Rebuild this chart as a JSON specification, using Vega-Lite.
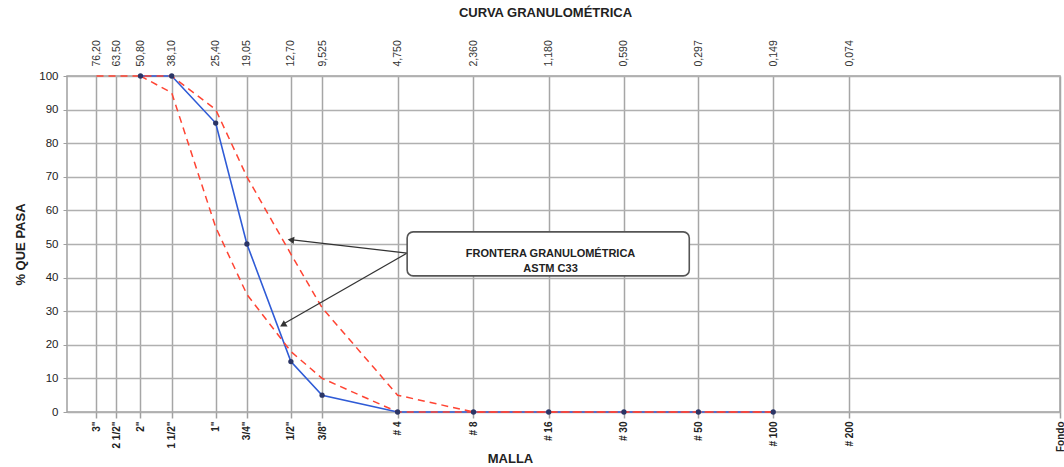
{
  "$schema": "https://vega.github.io/schema/vega-lite/v6.json",
  "autosize": {"type": "none"},
  "padding": {"left": 67, "top": 76, "right": 4, "bottom": 55},
  "width": 993,
  "height": 336,
  "config": {
    "font": "Liberation Sans",
    "view": {"stroke": "#a0a0a0", "strokeWidth": 1.5}
  },
  "title": {
    "text": "CURVA GRANULOMÉTRICA",
    "fontSize": 13,
    "fontWeight": "bold",
    "color": "#222222",
    "anchor": "middle",
    "dx": -18,
    "offset": 20
  },
  "datasets": {
    "muestra": [
      {"serie": "Muestra", "mm": 50.8, "pasa": 100},
      {"serie": "Muestra", "mm": 38.1, "pasa": 100},
      {"serie": "Muestra", "mm": 25.4, "pasa": 86},
      {"serie": "Muestra", "mm": 19.05, "pasa": 50},
      {"serie": "Muestra", "mm": 12.7, "pasa": 15},
      {"serie": "Muestra", "mm": 9.525, "pasa": 5},
      {"serie": "Muestra", "mm": 4.75, "pasa": 0},
      {"serie": "Muestra", "mm": 2.36, "pasa": 0},
      {"serie": "Muestra", "mm": 1.18, "pasa": 0},
      {"serie": "Muestra", "mm": 0.59, "pasa": 0},
      {"serie": "Muestra", "mm": 0.297, "pasa": 0},
      {"serie": "Muestra", "mm": 0.149, "pasa": 0}
    ],
    "limites": [
      {"serie": "Límite superior", "mm": 76.2, "pasa": 100},
      {"serie": "Límite superior", "mm": 63.5, "pasa": 100},
      {"serie": "Límite superior", "mm": 50.8, "pasa": 100},
      {"serie": "Límite superior", "mm": 38.1, "pasa": 100},
      {"serie": "Límite superior", "mm": 25.4, "pasa": 90},
      {"serie": "Límite superior", "mm": 19.05, "pasa": 70},
      {"serie": "Límite superior", "mm": 12.7, "pasa": 47},
      {"serie": "Límite superior", "mm": 9.525, "pasa": 31},
      {"serie": "Límite superior", "mm": 4.75, "pasa": 5},
      {"serie": "Límite superior", "mm": 2.36, "pasa": 0},
      {"serie": "Límite superior", "mm": 1.18, "pasa": 0},
      {"serie": "Límite superior", "mm": 0.59, "pasa": 0},
      {"serie": "Límite superior", "mm": 0.297, "pasa": 0},
      {"serie": "Límite superior", "mm": 0.149, "pasa": 0},
      {"serie": "Límite inferior", "mm": 50.8, "pasa": 100},
      {"serie": "Límite inferior", "mm": 38.1, "pasa": 95},
      {"serie": "Límite inferior", "mm": 25.4, "pasa": 55},
      {"serie": "Límite inferior", "mm": 19.05, "pasa": 35},
      {"serie": "Límite inferior", "mm": 12.7, "pasa": 18},
      {"serie": "Límite inferior", "mm": 9.525, "pasa": 10},
      {"serie": "Límite inferior", "mm": 4.75, "pasa": 0},
      {"serie": "Límite inferior", "mm": 2.36, "pasa": 0},
      {"serie": "Límite inferior", "mm": 1.18, "pasa": 0},
      {"serie": "Límite inferior", "mm": 0.59, "pasa": 0},
      {"serie": "Límite inferior", "mm": 0.297, "pasa": 0},
      {"serie": "Límite inferior", "mm": 0.149, "pasa": 0}
    ]
  },
  "layer": [
    {
      "data": {"name": "muestra"},
      "mark": {"type": "line", "color": "#2f5bd6", "strokeWidth": 1.6},
      "encoding": {
        "x": {
          "field": "mm",
          "type": "quantitative",
          "scale": {"type": "log", "domain": [0.0106, 100], "reverse": true, "nice": false, "zero": false},
          "axis": {
            "orient": "bottom",
            "values": [76.2, 63.5, 50.8, 38.1, 25.4, 19.05, 12.7, 9.525, 4.75, 2.36, 1.18, 0.59, 0.297, 0.149, 0.074, 0.0106],
            "labelExpr": "['3\"','2 1/2\"','2\"','1 1/2\"','1\"','3/4\"','1/2\"','3/8\"','# 4','# 8','# 16','# 30','# 50','# 100','# 200','Fondo'][indexof([76.2,63.5,50.8,38.1,25.4,19.05,12.7,9.525,4.75,2.36,1.18,0.59,0.297,0.149,0.074,0.0106], datum.value)]",
            "labelAngle": -90,
            "labelAlign": "right",
            "labelBaseline": "middle",
            "labelFontSize": 10,
            "labelFontWeight": "bold",
            "labelColor": "#222222",
            "labelPadding": 3,
            "labelOverlap": false,
            "labelBound": false,
            "labelFlush": false,
            "tickSize": 6,
            "tickColor": "#a0a0a0",
            "tickWidth": 1.5,
            "domain": false,
            "grid": true,
            "gridColor": "#a6a6a6",
            "gridWidth": 1.5,
            "title": "MALLA",
            "titleFontSize": 13,
            "titleFontWeight": "bold",
            "titleColor": "#222222",
            "titleX": 443,
            "titleY": 50,
            "titleBaseline": "alphabetic"
          }
        },
        "y": {
          "field": "pasa",
          "type": "quantitative",
          "scale": {"domain": [0, 100], "nice": false},
          "axis": {
            "values": [0, 10, 20, 30, 40, 50, 60, 70, 80, 90, 100],
            "labelFontSize": 11.5,
            "labelColor": "#222222",
            "labelPadding": 5,
            "tickSize": 4,
            "tickColor": "#a0a0a0",
            "domain": false,
            "grid": true,
            "gridColor": "#b0b0b0",
            "gridWidth": 1.5,
            "title": "% QUE PASA",
            "titleFontSize": 13,
            "titleFontWeight": "bold",
            "titleColor": "#222222",
            "titlePadding": 11
          }
        }
      }
    },
    {
      "data": {"name": "limites"},
      "mark": {"type": "line", "color": "#ff4433", "strokeWidth": 1.5, "strokeDash": [7, 5]},
      "encoding": {
        "x": {
          "field": "mm",
          "type": "quantitative",
          "scale": {"type": "log", "domain": [0.0106, 100], "reverse": true, "nice": false, "zero": false},
          "axis": null
        },
        "y": {"field": "pasa", "type": "quantitative", "scale": {"domain": [0, 100], "nice": false}, "axis": null},
        "detail": {"field": "serie"}
      }
    },
    {
      "data": {"name": "muestra"},
      "mark": {"type": "point", "filled": true, "color": "#2b3566", "size": 28, "opacity": 1},
      "encoding": {
        "x": {
          "field": "mm",
          "type": "quantitative",
          "scale": {"type": "log", "domain": [0.0106, 100], "reverse": true, "nice": false, "zero": false},
          "axis": {
            "orient": "top",
            "values": [76.2, 63.5, 50.8, 38.1, 25.4, 19.05, 12.7, 9.525, 4.75, 2.36, 1.18, 0.59, 0.297, 0.149, 0.074],
            "labelExpr": "['76,20','63,50','50,80','38,10','25,40','19,05','12,70','9,525','4,750','2,360','1,180','0,590','0,297','0,149','0,074'][indexof([76.2,63.5,50.8,38.1,25.4,19.05,12.7,9.525,4.75,2.36,1.18,0.59,0.297,0.149,0.074], datum.value)]",
            "labelAngle": -90,
            "labelAlign": "left",
            "labelBaseline": "middle",
            "labelFontSize": 10.5,
            "labelColor": "#333333",
            "labelPadding": 10,
            "labelOverlap": false,
            "labelBound": false,
            "labelFlush": false,
            "ticks": false,
            "domain": false,
            "grid": false,
            "title": null
          }
        },
        "y": {"field": "pasa", "type": "quantitative", "scale": {"domain": [0, 100], "nice": false}, "axis": null}
      }
    },
    {
      "data": {"values": [{}]},
      "mark": {"type": "rule", "color": "#333333", "strokeWidth": 1.2},
      "encoding": {
        "x": {"datum": 4.35, "type": "quantitative", "scale": {"type": "log", "domain": [0.0106, 100], "reverse": true, "nice": false, "zero": false}, "axis": null},
        "y": {"datum": 47.3, "type": "quantitative", "scale": {"domain": [0, 100], "nice": false}, "axis": null},
        "x2": {"datum": 12.5},
        "y2": {"datum": 51.2}
      }
    },
    {
      "data": {"values": [{}]},
      "mark": {"type": "rule", "color": "#333333", "strokeWidth": 1.2},
      "encoding": {
        "x": {"datum": 4.35, "type": "quantitative", "scale": {"type": "log", "domain": [0.0106, 100], "reverse": true, "nice": false, "zero": false}, "axis": null},
        "y": {"datum": 47.3, "type": "quantitative", "scale": {"domain": [0, 100], "nice": false}, "axis": null},
        "x2": {"datum": 13.4},
        "y2": {"datum": 26.5}
      }
    },
    {
      "data": {"values": [{}]},
      "mark": {"type": "point", "shape": "triangle-left", "angle": 7, "filled": true, "color": "#333333", "size": 55, "opacity": 1},
      "encoding": {
        "x": {"datum": 12.7, "type": "quantitative", "scale": {"type": "log", "domain": [0.0106, 100], "reverse": true, "nice": false, "zero": false}, "axis": null},
        "y": {"datum": 51.2, "type": "quantitative", "scale": {"domain": [0, 100], "nice": false}, "axis": null}
      }
    },
    {
      "data": {"values": [{}]},
      "mark": {"type": "point", "shape": "triangle-left", "angle": 330, "filled": true, "color": "#333333", "size": 55, "opacity": 1},
      "encoding": {
        "x": {"datum": 13.67, "type": "quantitative", "scale": {"type": "log", "domain": [0.0106, 100], "reverse": true, "nice": false, "zero": false}, "axis": null},
        "y": {"datum": 25.9, "type": "quantitative", "scale": {"domain": [0, 100], "nice": false}, "axis": null}
      }
    },
    {
      "data": {"values": [{}]},
      "mark": {"type": "rect", "fill": "#ffffff", "stroke": "#555555", "strokeWidth": 1.6, "cornerRadius": 6},
      "encoding": {
        "x": {"datum": 4.35, "type": "quantitative", "scale": {"type": "log", "domain": [0.0106, 100], "reverse": true, "nice": false, "zero": false}, "axis": null},
        "x2": {"datum": 0.323},
        "y": {"datum": 53.6, "type": "quantitative", "scale": {"domain": [0, 100], "nice": false}, "axis": null},
        "y2": {"datum": 40.5}
      }
    },
    {
      "data": {"values": [{}]},
      "mark": {
        "type": "text",
        "text": ["FRONTERA GRANULOMÉTRICA", "ASTM C33"],
        "fontSize": 11,
        "fontWeight": "bold",
        "color": "#222222",
        "align": "center",
        "baseline": "middle",
        "lineHeight": 15
      },
      "encoding": {
        "x": {"datum": 1.16, "type": "quantitative", "scale": {"type": "log", "domain": [0.0106, 100], "reverse": true, "nice": false, "zero": false}, "axis": null},
        "y": {"datum": 47, "type": "quantitative", "scale": {"domain": [0, 100], "nice": false}, "axis": null}
      }
    }
  ],
  "resolve": {"axis": {"x": "independent", "y": "independent"}}
}
